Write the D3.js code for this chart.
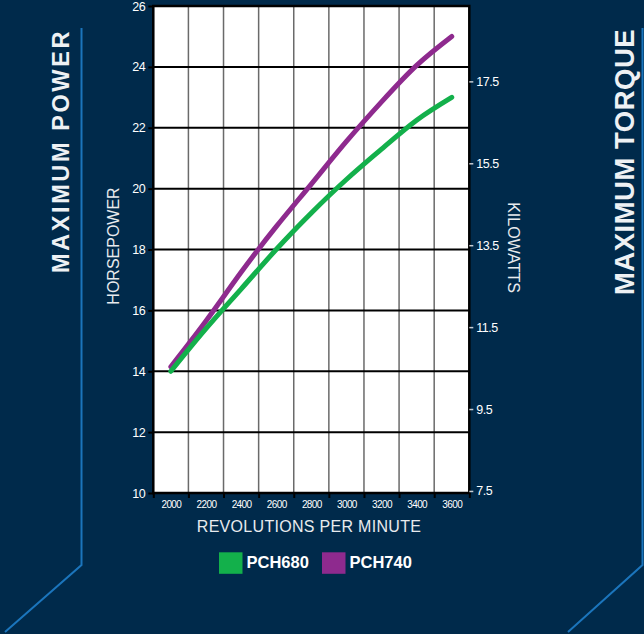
<!DOCTYPE html>
<html>
<head>
<meta charset="utf-8">
<script src="https://cdn.jsdelivr.net/npm/d3@7"></script>
<style>
  html, body { margin: 0; padding: 0; background: #002a4b; }
  svg { display: block; }
  text { font-family: "Liberation Sans", Arial, Helvetica, sans-serif; }
</style>
</head>
<body>
<svg id="chart" width="644" height="634"></svg>
<script>
// ---- data ----
const rpm = [2000, 2200, 2400, 2600, 2800, 3000, 3200, 3400, 3600];
const pch680 = [14.0, 15.4, 16.7, 18.0, 19.2, 20.3, 21.3, 22.25, 23.0];
const pch740 = [14.15, 15.65, 17.25, 18.75, 20.15, 21.55, 22.85, 24.05, 25.0];
const seriesNames = ["PCH680", "PCH740"];
const seriesColors = ["#13b04b", "#8e2a8e"];
const hpTicks = [10, 12, 14, 16, 18, 20, 22, 24, 26];
const kwTicks = [7.5, 9.5, 11.5, 13.5, 15.5, 17.5];
const rpmLabels = [2000, 2200, 2400, 2600, 2800, 3000, 3200, 3400, 3600];
const rpmBounds = [1900, 2100, 2300, 2500, 2700, 2900, 3100, 3300, 3500, 3700];

const svg = d3.select("#chart");
const L = 153.3, R = 469.3, T = 6, B = 493;

const x = d3.scaleLinear().domain([1900, 3700]).range([L, R]);
const y = d3.scaleLinear().domain([10, 26]).range([B, T]);
const yKW = d3.scaleLinear().domain([7.45, 19.34]).range([B, T]);

// background
svg.append("rect").attr("width", 644).attr("height", 634).attr("fill", "#002a4b");

// decorative blue lines
const deco = "#1b75bc";
svg.append("polyline").attr("points", "81.5,28 81.5,565 5,632")
  .attr("fill", "none").attr("stroke", deco).attr("stroke-width", 2);
svg.append("polyline").attr("points", "642.5,28 642.5,565 568,632")
  .attr("fill", "none").attr("stroke", deco).attr("stroke-width", 2);

// side titles
svg.append("text").attr("transform", "translate(68.5,151) rotate(-90)")
  .attr("text-anchor", "middle").attr("fill", "#eef1f4")
  .attr("font-weight", "bold").attr("font-size", 23.5).attr("letter-spacing", 2.6)
  .text("MAXIMUM POWER");
svg.append("text").attr("transform", "translate(633.5,162) rotate(-90)")
  .attr("text-anchor", "middle").attr("fill", "#eef1f4")
  .attr("font-weight", "bold").attr("font-size", 27.5).attr("letter-spacing", 0.5)
  .text("MAXIMUM TORQUE");

// plot background
svg.append("rect").attr("x", L).attr("y", T).attr("width", R - L).attr("height", B - T)
  .attr("fill", "#ffffff");

// vertical grid
svg.append("g").selectAll("line").data(rpmBounds.slice(1, -1)).join("line")
  .attr("x1", d => x(d)).attr("x2", d => x(d)).attr("y1", T).attr("y2", B)
  .attr("stroke", "#6a6a6a").attr("stroke-width", 1.5);

// horizontal grid
svg.append("g").selectAll("line").data(hpTicks.slice(1, -1)).join("line")
  .attr("x1", L).attr("x2", R).attr("y1", d => y(d)).attr("y2", d => y(d))
  .attr("stroke", "#000").attr("stroke-width", 2);

// border
svg.append("rect").attr("x", L).attr("y", T).attr("width", R - L).attr("height", B - T)
  .attr("fill", "none").attr("stroke", "#000").attr("stroke-width", 2.5);

// left axis
const gL = svg.append("g").attr("transform", `translate(${L},0)`)
  .call(d3.axisLeft(y).tickValues(hpTicks).tickSize(5).tickPadding(3).tickFormat(d3.format("d")));
gL.select(".domain").remove();
gL.selectAll(".tick line").attr("stroke", "#000").attr("stroke-width", 2);
gL.selectAll(".tick text").attr("fill", "#fff").attr("font-size", 12.5)
  .attr("letter-spacing", -0.4).style("font-family", "Liberation Sans, Arial, sans-serif");

// right axis (kW)
const gR = svg.append("g").attr("transform", `translate(${R},0)`)
  .call(d3.axisRight(yKW).tickValues(kwTicks).tickSize(4).tickPadding(3).tickFormat(d3.format(".1f")));
gR.select(".domain").remove();
gR.selectAll(".tick line").attr("stroke", "#c8cdd3").attr("stroke-width", 1.5);
gR.selectAll(".tick text").attr("fill", "#fff").attr("font-size", 12.5)
  .attr("letter-spacing", -0.5).style("font-family", "Liberation Sans, Arial, sans-serif");

// bottom axis: ticks at column bounds
const gB = svg.append("g").attr("transform", `translate(0,${B})`)
  .call(d3.axisBottom(x).tickValues(rpmBounds).tickSize(5).tickFormat(""));
gB.select(".domain").remove();
gB.selectAll(".tick line").attr("stroke", "#000").attr("stroke-width", 2);
// bottom labels at column centres
const gB2 = svg.append("g").attr("transform", `translate(0,${B})`)
  .call(d3.axisBottom(x).tickValues(rpmLabels).tickSize(0).tickPadding(8).tickFormat(d3.format("d")));
gB2.select(".domain").remove();
gB2.selectAll(".tick text").attr("fill", "#fff").attr("font-size", 10)
  .attr("letter-spacing", -0.6).style("font-family", "Liberation Sans, Arial, sans-serif");

// axis titles
svg.append("text").attr("transform", "translate(118.5,246) rotate(-90)")
  .attr("text-anchor", "middle").attr("fill", "#e8ebee").attr("font-size", 16)
  .text("HORSEPOWER");
svg.append("text").attr("transform", "translate(508,247.5) rotate(90)")
  .attr("text-anchor", "middle").attr("fill", "#e8ebee").attr("font-size", 16)
  .text("KILOWATTS");
svg.append("text").attr("x", 309).attr("y", 532).attr("text-anchor", "middle")
  .attr("fill", "#e8ebee").attr("font-size", 16).attr("letter-spacing", 0.3)
  .text("REVOLUTIONS PER MINUTE");

// lines
const line = d3.line().x(d => x(d[0])).y(d => y(d[1])).curve(d3.curveNatural);
const series = [pch740, pch680];
const cols = [seriesColors[1], seriesColors[0]];
series.forEach((s, i) => {
  svg.append("path").datum(rpm.map((r, j) => [r, s[j]]))
    .attr("d", line).attr("fill", "none").attr("stroke", cols[i])
    .attr("stroke-width", 5).attr("stroke-linecap", "round").attr("stroke-linejoin", "round");
});

// legend
const legX = [219, 322];
seriesNames.forEach((n, i) => {
  svg.append("rect").attr("x", legX[i]).attr("y", 552.3).attr("width", 23.5).attr("height", 21.5)
    .attr("fill", seriesColors[i]);
  svg.append("text").attr("x", legX[i] + 27.5).attr("y", 568).attr("fill", "#fff")
    .attr("font-weight", "bold").attr("font-size", 16.5).text(n);
});
</script>
</body>
</html>
